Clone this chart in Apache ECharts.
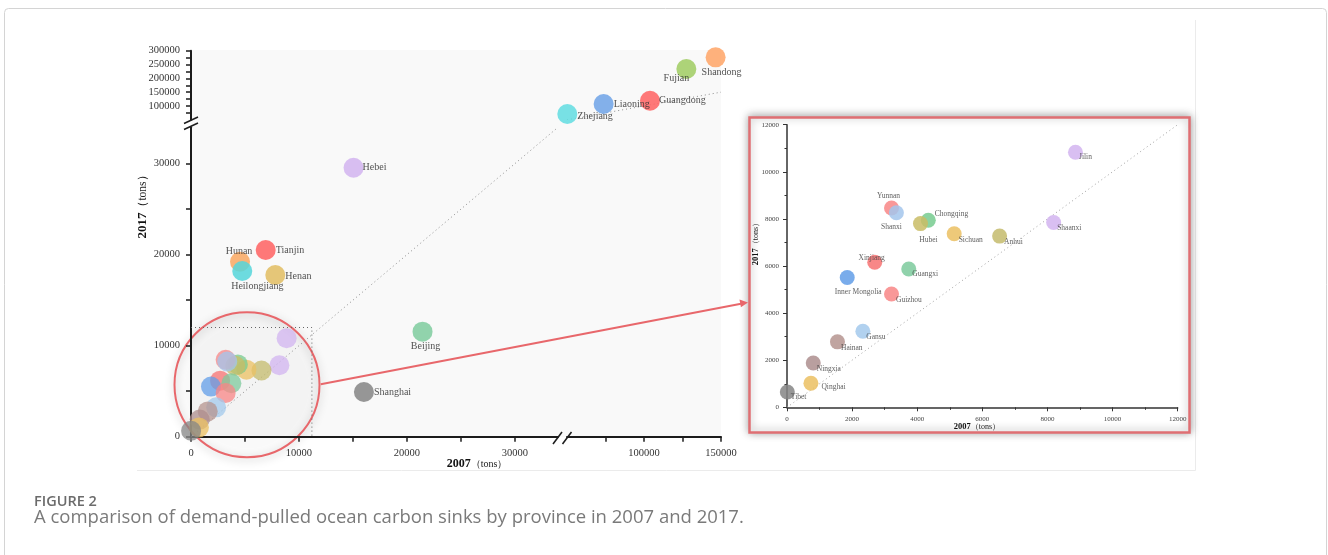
<!DOCTYPE html>
<html>
<head>
<meta charset="utf-8">
<script src="https://cdn.jsdelivr.net/npm/echarts@6/dist/echarts.min.js"></script>
<style>
  html, body { margin: 0; padding: 0; background: #ffffff; }
  #chart { width: 1328px; height: 555px; }
</style>
</head>
<body>
<div id="chart"></div>
<script>
// Demand-pulled ocean carbon sinks (tons), 2007 vs 2017, by province.

// Largest provinces (upper-right block of the broken axes)
const bigProvinces = ['Shandong', 'Fujian', 'Guangdong', 'Liaoning', 'Zhejiang'];
const big2007 = [146500, 127500, 103900, 73800, 50200];
const big2017 = [276000, 233800, 119000, 107000, 71000];

// Mid-sized provinces (labelled in the main panel)
const midProvinces = ['Hebei', 'Beijing', 'Shanghai', 'Tianjin', 'Hunan', 'Heilongjiang', 'Henan'];
const mid2007 = [15060, 21450, 16020, 6920, 4540, 4750, 7810];
const mid2017 = [29560, 11540, 4910, 20520, 19230, 18210, 17770];

// Small provinces (shown again, enlarged, in the detail panel)
const smallProvinces = ['Jilin', 'Shaanxi', 'Anhui', 'Sichuan', 'Chongqing', 'Hubei', 'Yunnan', 'Shanxi',
  'Xinjiang', 'Guangxi', 'Inner Mongolia', 'Guizhou', 'Gansu', 'Hainan', 'Ningxia', 'Qinghai', 'Tibet'];
const small2007 = [8860, 8190, 6530, 5135, 4340, 4100, 3210, 3360, 2695, 3740, 1850, 3210, 2330, 1550, 806, 735, 10];
const small2017 = [10830, 7850, 7270, 7370, 7940, 7800, 8460, 8260, 6160, 5870, 5510, 4810, 3230, 2780, 1880, 1020, 650];

// Tick labels of the broken axes
const lowTickLabels = [0, 10000, 20000, 30000];
const highXTickLabels = [100000, 150000];
const highYTickLabels = [100000, 150000, 200000, 250000, 300000];
const detailTickLabels = [0, 2000, 4000, 6000, 8000, 10000, 12000];

// Marker colours per province
const palette = {
  Shandong: '#ffa466', Fujian: '#a0cc62', Guangdong: '#ff6262', Liaoning: '#6ea3e8', Zhejiang: '#62dde2',
  Hebei: '#d2b4f0', Beijing: '#7fcc9f', Shanghai: '#858585', Tianjin: '#ff6262', Hunan: '#f9a862',
  Heilongjiang: '#55d6da', Henan: '#e2bd62',
  Jilin: '#d2b4f0', Shaanxi: '#d2b4f0', Anhui: '#c4bb6c', Sichuan: '#ebc062', Chongqing: '#77cb8f',
  Hubei: '#c9bc65', Yunnan: '#f88686', Shanxi: '#a3c6ec', Xinjiang: '#f77272', Guangxi: '#7dca9c',
  'Inner Mongolia': '#629ee8', Guizhou: '#f88686', Gansu: '#a3c9ec', Hainan: '#b5948f', Ningxia: '#ad8e8e',
  Qinghai: '#ebc062', Tibet: '#858585'
};

// Label placement: [position, dx, dy]
const mainLabelPlace = {
  Shandong: ['bottom', 6, -5], Fujian: ['bottom', -10, -11], Guangdong: ['right', -6, 0],
  Liaoning: ['right', -5, 0], Zhejiang: ['right', -5, 2], Hebei: ['right', -6, 0],
  Beijing: ['bottom', 3, -5], Shanghai: ['right', -5, 0], Tianjin: ['right', -5, 0],
  Hunan: ['top', -1, 10], Heilongjiang: ['bottom', 15, -5], Henan: ['right', -5, 1]
};
const detailLabelPlace = {
  Jilin: ['right', -9, 5], Shaanxi: ['right', -9, 6], Anhui: ['right', -8, 6], Sichuan: ['right', -8, 6],
  Chongqing: ['right', -6, -6], Hubei: ['bottom', 8, 0], Yunnan: ['top', -3, 4], Shanxi: ['bottom', -5, -2],
  Xinjiang: ['top', -3, 12], Guangxi: ['right', -9, 5], 'Inner Mongolia': ['bottom', 11, -2],
  Guizhou: ['right', -8, 6], Gansu: ['right', -9, 6], Hainan: ['right', -9, 6], Ningxia: ['right', -9, 6],
  Qinghai: ['right', -2, 4], Tibet: ['right', -9, 5]
};

const SERIF = '"Liberation Serif", "Times New Roman", serif';
const AXIS = '#1c1c1c';
const plain = function (v) { return String(v); };

function points(names, xs, ys, place, opacity) {
  return names.map(function (n, i) {
    const item = { name: n, value: [xs[i], ys[i]], itemStyle: { color: palette[n], opacity: opacity } };
    if (place) {
      const p = place[n];
      item.label = { show: true, position: p[0], offset: [p[1], p[2]] };
    }
    return item;
  });
}

function range(a, b, step) {
  const out = [];
  for (let v = a; v <= b; v += step) out.push(v);
  return out;
}

function mainAxis(gridIndex, min, max, interval, ticks, labels) {
  return {
    type: 'value', gridIndex: gridIndex, min: min, max: max, interval: interval,
    splitLine: { show: false },
    axisLine: { show: true, lineStyle: { color: AXIS, width: 2 } },
    axisTick: { show: true, length: 5, lineStyle: { color: AXIS, width: 1.5 }, customValues: ticks },
    axisLabel: { color: '#333', fontSize: 10.5, fontFamily: SERIF, margin: 11,
      customValues: labels, formatter: plain }
  };
}

function detailAxis(gridIndex) {
  return {
    type: 'value', gridIndex: gridIndex, min: 0, max: 12000, interval: 2000,
    splitLine: { show: false },
    axisLine: { show: true, lineStyle: { color: '#333', width: 1.5 } },
    axisTick: { show: true, length: 4, lineStyle: { color: '#333' } },
    minorTick: { show: true, splitNumber: 2, length: 2.5, lineStyle: { color: '#333' } },
    axisLabel: { color: '#444', fontSize: 7, fontFamily: SERIF, margin: 8,
      customValues: detailTickLabels, formatter: plain }
  };
}

function hiddenAxis(gridIndex, min, max) {
  return { type: 'value', gridIndex: gridIndex, min: min, max: max, show: false, splitLine: { show: false } };
}

const dotted = function (color) {
  return { type: [1, 3], color: color, width: 1 };
};

const chart = echarts.init(document.getElementById('chart'), null, { renderer: 'canvas' });

const option = {
  backgroundColor: '#ffffff',
  animation: false,
  grid: [
    { left: 191, top: 127.3, width: 367, height: 309.4, outerBoundsMode: 'none' },   // low x / low y
    { left: 567, top: 50.7, width: 154, height: 69.1, outerBoundsMode: 'none' },     // high x / high y
    { left: 191, top: 50.7, width: 367, height: 69.1, outerBoundsMode: 'none' },     // upper y-axis segment
    { left: 567, top: 127.3, width: 154, height: 309.4, outerBoundsMode: 'none' },   // right x-axis segment
    { left: 787, top: 124.7, width: 390.7, height: 282.6, outerBoundsMode: 'none' }  // detail panel
  ],
  xAxis: [
    mainAxis(0, 0, 34000, 10000, range(0, 30000, 5000), lowTickLabels),
    hiddenAxis(1, 50000, 150000),
    hiddenAxis(2, 0, 34000),
    mainAxis(3, 50000, 150000, 50000, [75000, 100000, 125000, 150000], highXTickLabels),
    detailAxis(4)
  ],
  yAxis: [
    mainAxis(0, 0, 34000, 10000, range(0, 30000, 5000), lowTickLabels),
    hiddenAxis(1, 50000, 300000),
    mainAxis(2, 50000, 300000, 50000, range(75000, 300000, 25000), highYTickLabels),
    hiddenAxis(3, 0, 34000),
    detailAxis(4)
  ],
  series: [
    // reference lines y = x and the zoom box
    { type: 'line', xAxisIndex: 0, yAxisIndex: 0, silent: true, symbol: 'none', z: 1,
      data: [[0, 0], [34000, 34000]], lineStyle: dotted('#8c8c8c') },
    { type: 'line', xAxisIndex: 1, yAxisIndex: 1, silent: true, symbol: 'none', z: 1,
      data: [[50000, 50000], [150000, 150000]], lineStyle: dotted('#8c8c8c') },
    { type: 'line', xAxisIndex: 0, yAxisIndex: 0, silent: true, symbol: 'none', z: 1,
      data: [[0, 12000], [11200, 12000], [11200, 0]], lineStyle: dotted('#666666') },
    { type: 'line', xAxisIndex: 4, yAxisIndex: 4, silent: true, symbol: 'none', z: 1,
      data: [[0, 0], [12000, 12000]], lineStyle: dotted('#a0a0a0') },

    // main panel
    { type: 'scatter', xAxisIndex: 0, yAxisIndex: 0, symbolSize: 20, clip: false,
      data: points(smallProvinces, small2007, small2017, null, 0.75) },
    { type: 'scatter', xAxisIndex: 0, yAxisIndex: 0, symbolSize: 20, clip: false,
      label: { show: true, formatter: '{b}', color: '#333', fontSize: 10, fontFamily: SERIF },
      data: points(midProvinces, mid2007, mid2017, mainLabelPlace, 0.85) },
    { type: 'scatter', xAxisIndex: 1, yAxisIndex: 1, symbolSize: 20, clip: false,
      label: { show: true, formatter: '{b}', color: '#333', fontSize: 10, fontFamily: SERIF },
      data: points(bigProvinces, big2007, big2017, mainLabelPlace, 0.85) },

    // detail panel
    { type: 'scatter', xAxisIndex: 4, yAxisIndex: 4, symbolSize: 15, clip: false,
      label: { show: true, formatter: '{b}', color: '#444', fontSize: 7.5, fontFamily: SERIF },
      data: points(smallProvinces, small2007, small2017, detailLabelPlace, 0.85) }
  ],
  graphic: [
    // page card and figure frame
    { type: 'rect', z: -3, shape: { x: 4.5, y: 8.5, width: 1322, height: 600, r: 4 },
      style: { fill: 'none', stroke: '#d4d4d4', lineWidth: 1 } },
    { type: 'line', z: -3, shape: { x1: 137, y1: 470.5, x2: 1195.5, y2: 470.5 }, style: { stroke: '#ebebeb', lineWidth: 1 } },
    { type: 'line', z: -3, shape: { x1: 1195.5, y1: 20, x2: 1195.5, y2: 470.5 }, style: { stroke: '#ebebeb', lineWidth: 1 } },

    // plot background
    { type: 'rect', z: -2, shape: { x: 191, y: 50, width: 530, height: 387 }, style: { fill: '#f9f9f9' } },

    // axis breaks
    { type: 'line', z: 5, shape: { x1: 184, y1: 123.5, x2: 198, y2: 117 }, style: { stroke: AXIS, lineWidth: 1.5 } },
    { type: 'line', z: 5, shape: { x1: 184, y1: 129.5, x2: 198, y2: 123 }, style: { stroke: AXIS, lineWidth: 1.5 } },
    { type: 'line', z: 5, shape: { x1: 553, y1: 444, x2: 562, y2: 432 }, style: { stroke: AXIS, lineWidth: 1.5 } },
    { type: 'line', z: 5, shape: { x1: 562.5, y1: 444, x2: 571.5, y2: 432 }, style: { stroke: AXIS, lineWidth: 1.5 } },

    // axis titles, main panel
    { type: 'text', z: 5, x: 477, y: 464,
      style: { text: '{b|2007}{n|（tons）}', align: 'center', verticalAlign: 'middle',
        rich: { b: { fontWeight: 'bold', fontSize: 12, fontFamily: SERIF, fill: '#111' },
                n: { fontSize: 10, fontFamily: SERIF, fill: '#222' } } } },
    { type: 'text', z: 5, x: 143, y: 204, rotation: Math.PI / 2,
      style: { text: '{b|2017}{n|（tons）}', align: 'center', verticalAlign: 'middle',
        rich: { b: { fontWeight: 'bold', fontSize: 13, fontFamily: SERIF, fill: '#111' },
                n: { fontSize: 11.5, fontFamily: SERIF, fill: '#222' } } } },

    // zoom circle and arrow
    { type: 'circle', z: -1, shape: { cx: 247, cy: 384.7, r: 72.5 },
      style: { fill: 'rgba(0,0,0,0.02)', stroke: '#e8676b', lineWidth: 2,
        shadowBlur: 8, shadowColor: 'rgba(0,0,0,0.25)', shadowOffsetY: 2 } },
    { type: 'line', z: 10, shape: { x1: 320.7, y1: 384.3, x2: 741, y2: 303.8 },
      style: { stroke: '#e8676b', lineWidth: 2 } },
    { type: 'polygon', z: 10, shape: { points: [[748, 302.5], [739.5, 299.6], [740.9, 307.3]] },
      style: { fill: '#e8676b' } },

    // detail panel frame
    { type: 'rect', z: -1, shape: { x: 749.5, y: 117.5, width: 440, height: 315 },
      style: { fill: '#ffffff', stroke: '#df6f73', lineWidth: 2.5,
        shadowBlur: 8, shadowColor: 'rgba(0,0,0,0.35)', shadowOffsetY: -1 } },
    { type: 'text', z: 5, x: 977, y: 427,
      style: { text: '{b|2007}{n|（tons）}', align: 'center', verticalAlign: 'middle',
        rich: { b: { fontWeight: 'bold', fontSize: 8.5, fontFamily: SERIF, fill: '#111' },
                n: { fontSize: 8, fontFamily: SERIF, fill: '#222' } } } },
    { type: 'text', z: 5, x: 756, y: 242, rotation: Math.PI / 2,
      style: { text: '{b|2017}{n|（tons）}', align: 'center', verticalAlign: 'middle',
        rich: { b: { fontWeight: 'bold', fontSize: 8.5, fontFamily: SERIF, fill: '#111' },
                n: { fontSize: 8, fontFamily: SERIF, fill: '#222' } } } },

    // caption
    { type: 'text', z: 5, x: 34, y: 501.5,
      style: { text: 'FIGURE 2', fontSize: 14.5, fontWeight: 600, fontFamily: '"Open Sans", sans-serif',
        fill: '#6b6b6b', verticalAlign: 'middle' } },
    { type: 'text', z: 5, x: 34, y: 518,
      style: { text: 'A comparison of demand-pulled ocean carbon sinks by province in 2007 and 2017.',
        fontSize: 18.5, fontFamily: '"Open Sans", sans-serif', fill: '#7a7a7a', verticalAlign: 'middle' } }
  ]
};

chart.setOption(option);
</script>
</body>
</html>
